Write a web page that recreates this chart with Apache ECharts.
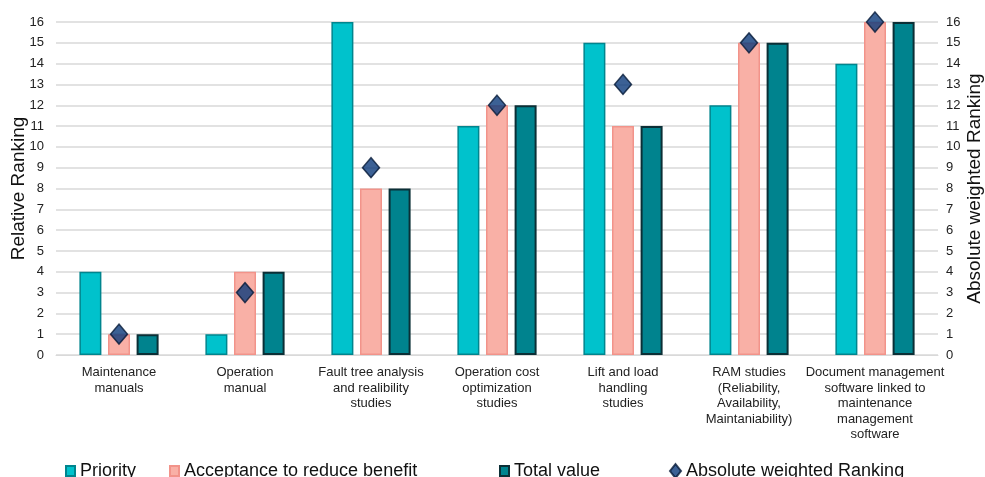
<!DOCTYPE html>
<html>
<head>
<meta charset="UTF-8">
<script src="https://cdn.jsdelivr.net/npm/echarts@6/dist/echarts.min.js"></script>
<title>Relative Ranking</title>
<style type="text/css">
body{ padding:0; margin:0; background:#fff; }
#main{ width:985px; height:477px; }
</style>
</head>
<body>
<div id="main"></div>
<script type="text/javascript">
var categories = [
  'Maintenance\nmanuals',
  'Operation\nmanual',
  'Fault tree analysis\nand realibility\nstudies',
  'Operation cost\noptimization\nstudies',
  'Lift and load\nhandling\nstudies',
  'RAM studies\n(Reliability,\nAvailability,\nMaintaniability)',
  'Document management\nsoftware linked to\nmaintenance\nmanagement\nsoftware'
];
var priority   = [4, 1, 16, 11, 15, 12, 14];
var acceptance = [1, 4, 8, 12, 11, 15, 16];
var totalValue = [1, 4, 8, 12, 11, 15, 16];
var absRanking = [1, 3, 9, 12, 13, 15, 16];

var myChart = echarts.init(document.getElementById('main'));

var fontFam = 'Liberation Sans, Arial, sans-serif';

function legendAt(name, left, icon) {
  return {
    data: [name], left: left, top: 457, icon: icon,
    itemWidth: icon == 'diamond' ? 11 : 9, itemHeight: icon == 'diamond' ? 14 : 10,
    itemGap: 10,
    textStyle: { fontSize: 18, color: '#111', fontFamily: fontFam }
  };
}

var option = {
  animation: false,
  legend: [
    legendAt('Priority', 60, 'rect'),
    legendAt('Acceptance to reduce benefit', 164, 'rect'),
    legendAt('Total value', 494, 'rect'),
    legendAt('Absolute weighted Ranking', 664, 'diamond')
  ],
  grid: { left: 56, right: 47, top: 22, bottom: 122, outerBoundsMode: 'none' },
  xAxis: {
    type: 'category',
    data: categories,
    axisLine: { show: true, lineStyle: { color: '#d9d9d9' } },
    axisTick: { show: false },
    axisLabel: { interval: 0, color: '#222', fontSize: 13, lineHeight: 15.5, margin: 10, fontFamily: fontFam }
  },
  yAxis: [
    {
      type: 'value', min: 0, max: 16, interval: 1,
      name: 'Relative Ranking', nameLocation: 'middle', nameGap: 28, nameMoveOverlap: false,
      nameTextStyle: { fontSize: 19, color: '#111', fontFamily: fontFam },
      axisLabel: { color: '#222', fontSize: 13, margin: 12, fontFamily: fontFam },
      splitLine: { lineStyle: { color: '#d9d9d9', width: 1.5 } },
      axisLine: { show: false }, axisTick: { show: false }
    },
    {
      type: 'value', min: 0, max: 16, interval: 1,
      name: 'Absolute weighted Ranking', nameLocation: 'middle', nameGap: 27, nameMoveOverlap: false,
      nameRotate: 90,
      nameTextStyle: { fontSize: 19, color: '#111', fontFamily: fontFam },
      axisLabel: { color: '#222', fontSize: 13, margin: 8, fontFamily: fontFam },
      splitLine: { show: false },
      axisLine: { show: false }, axisTick: { show: false }
    }
  ],
  series: [
    {
      name: 'Priority', type: 'bar', data: priority, barWidth: 22, barGap: '30%',
      itemStyle: { color: '#00c2cc', borderColor: '#00858e', borderWidth: 1.5 }
    },
    {
      name: 'Acceptance to reduce benefit', type: 'bar', data: acceptance, barWidth: 22,
      itemStyle: { color: '#f9b0a6', borderColor: '#f2938a', borderWidth: 1.5 }
    },
    {
      name: 'Total value', type: 'bar', data: totalValue, barWidth: 22,
      itemStyle: { color: '#00838e', borderColor: '#0b2f36', borderWidth: 2 }
    },
    {
      name: 'Absolute weighted Ranking', type: 'scatter', yAxisIndex: 1, data: absRanking,
      symbol: 'diamond', symbolSize: [17, 20], z: 5,
      itemStyle: { color: '#0b3a7a', borderColor: '#061a38', borderWidth: 1.5 }
    }
  ]
};

myChart.setOption(option);
</script>
</body>
</html>
